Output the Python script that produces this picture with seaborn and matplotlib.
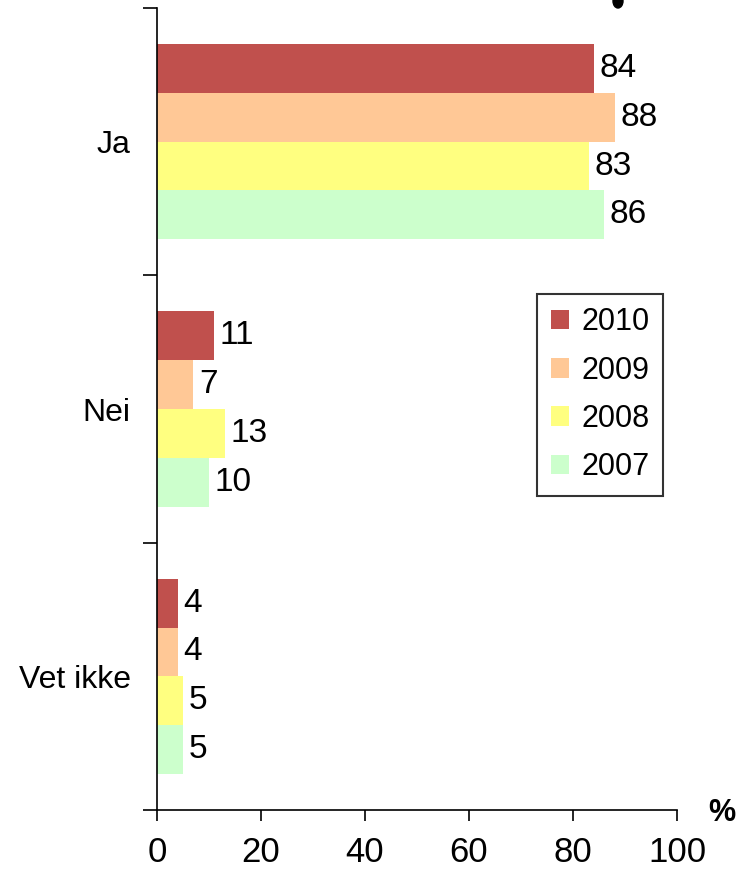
import matplotlib
matplotlib.use('Agg')
import matplotlib.pyplot as plt
from matplotlib.patches import Ellipse
import pandas as pd
import seaborn as sns

# survey answers per year, share in percent
answers = ['Ja', 'Nei', 'Vet ikke']
years = ['2010', '2009', '2008', '2007']
pct_2010 = [84, 11, 4]
pct_2009 = [88, 7, 4]
pct_2008 = [83, 13, 5]
pct_2007 = [86, 10, 5]
year_colors = ['#C0504D', '#FFC896', '#FFFF80', '#CCFFCC']

rows = []
for yr, vals in zip(years, [pct_2010, pct_2009, pct_2008, pct_2007]):
    for ans, v in zip(answers, vals):
        rows.append({'Svar': ans, 'Prosent': v, 'År': yr})
df = pd.DataFrame(rows)

sns.set_style('white')
plt.rcParams['font.family'] = ['Liberation Sans', 'DejaVu Sans']
plt.rcParams['text.color'] = 'black'
plt.rcParams['xtick.color'] = 'black'
plt.rcParams['ytick.color'] = 'black'
plt.rcParams['axes.labelcolor'] = 'black'

fig = plt.figure(figsize=(7.38, 8.76), dpi=100)
ax = fig.add_axes([0.2127, 0.0753, 0.7046, 0.9156])

sns.barplot(data=df, x='Prosent', y='Svar', hue='År', hue_order=years, order=answers,
            orient='h', palette=year_colors, saturation=1, width=0.73, gap=0,
            linewidth=0, ax=ax)

for c in ax.containers:
    ax.bar_label(c, padding=4, fontsize=24, color='black')

ax.set_xlim(0, 100)
ax.set_ylim(2.5, -0.5)
ax.set_xticks([0, 20, 40, 60, 80, 100])
ax.tick_params(axis='x', which='major', length=8, width=1.2, direction='out',
               labelsize=25, pad=11, bottom=True)
ax.set_yticks([0, 1, 2], answers)
ax.tick_params(axis='y', which='major', length=0, labelsize=23, pad=19)
ax.set_yticks([-0.5, 0.5, 1.5, 2.5], minor=True)
ax.tick_params(axis='y', which='minor', length=10, width=1.2, direction='out', left=True)
ax.set_xlabel('')
ax.set_ylabel('')

for s in ['top', 'right']:
    ax.spines[s].set_visible(False)
for s in ['left', 'bottom']:
    ax.spines[s].set_color('black')
    ax.spines[s].set_linewidth(1.2)

ax.text(1.06, -0.004, '%', transform=ax.transAxes, fontsize=22, fontweight='bold',
        ha='left', va='center')

# cut-off blob at the top edge of the original picture
fig.add_artist(Ellipse((618 / 738, 1 - 1 / 876), width=10 / 738, height=14 / 876,
                       transform=fig.transFigure, color='black'))

leg = ax.legend(loc='upper left', bbox_to_anchor=(0.731, 0.644), fontsize=22,
                frameon=True, fancybox=False, edgecolor='black',
                handlelength=0.6, handleheight=0.6, handletextpad=0.4,
                labelspacing=0.6, borderpad=0.45, borderaxespad=0)
leg.get_frame().set_linewidth(1.5)

plt.savefig('out.png', dpi=100)
